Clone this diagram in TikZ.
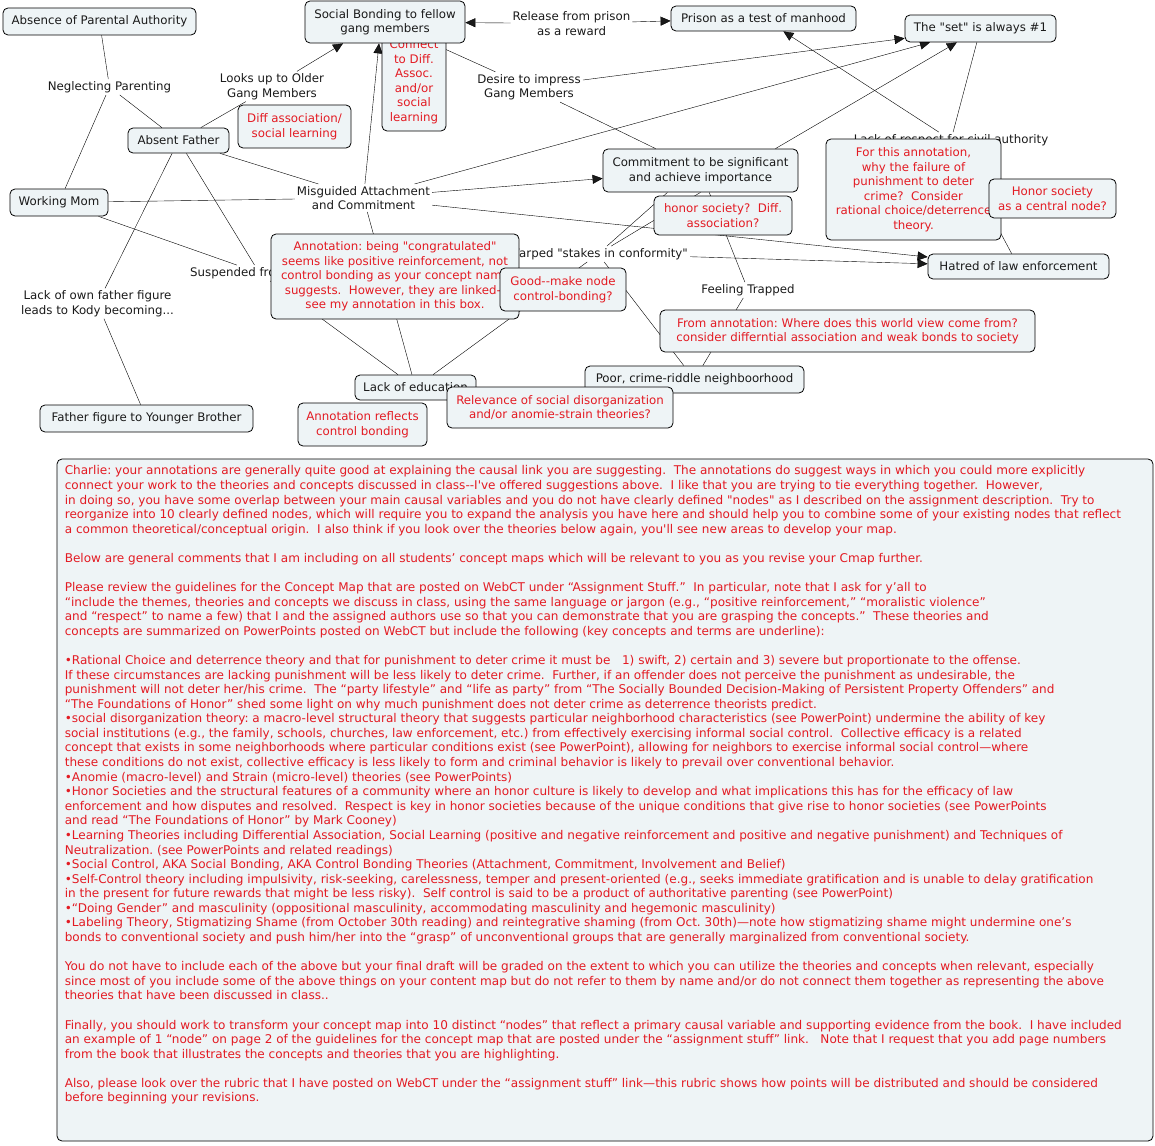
\documentclass[tikz,border=0pt]{standalone}
\usepackage{fontspec}
\newfontfamily\cmfont{DejaVu Sans}
\usetikzlibrary{arrows.meta,backgrounds}
\definecolor{cmfill}{HTML}{EEF4F6}
\definecolor{cmred}{HTML}{E31B23}
\definecolor{cmink}{HTML}{1A1A1A}

\begin{document}
\begin{tikzpicture}[
  x=1pt, y=-1pt,
  font=\cmfont\fontsize{11.8}{14.5}\selectfont\frenchspacing,
  >={Triangle[length=10pt,width=9pt]},
  cpt/.style={draw=black, fill=cmfill, rounded corners=5pt, line width=0.8pt,
              align=center, inner sep=0pt, text=cmink},
  lnk/.style={align=center, inner sep=2pt, text=cmink},
  ann/.style={cpt, text=cmred},
]

\useasboundingbox (0,0) rectangle (1155,1145);

% ===== annotation tucked under the bonding concept =====
\node[ann, minimum width=64pt, minimum height=98pt] (nconnect) at (414,82)
  {Connect\\to Diff.\\Assoc.\\and/or\\social\\learning};

% ===== concepts =====
\node[cpt, minimum width=193pt, minimum height=27pt] (apa) at (99.5,21.5) {Absence of Parental Authority};
\node[cpt, minimum width=160pt, minimum height=42pt] (sb) at (385,22) {Social Bonding to fellow\\gang members};
\node[cpt, minimum width=185pt, minimum height=25pt] (prison) at (763.5,18.5) {Prison as a test of manhood};
\node[cpt, minimum width=151pt, minimum height=27pt] (set) at (980.5,28.5) {The "set" is always \#1};
\node[cpt, minimum width=101pt, minimum height=25pt] (af) at (178.5,140.5) {Absent Father};
\node[cpt, minimum width=98pt, minimum height=27pt] (wm) at (59,202.5) {Working Mom};
\node[cpt, minimum width=195pt, minimum height=43pt] (cmt) at (700.5,170.5) {Commitment to be significant\\and achieve importance};
\node[cpt, minimum width=181pt, minimum height=25pt] (hate) at (1018.5,266.5) {Hatred of law enforcement};
\node[cpt, minimum width=121pt, minimum height=25pt] (loe) at (415.5,387.5) {Lack of education};
\node[cpt, minimum width=219pt, minimum height=27pt] (poor) at (694.5,379.5) {Poor, crime-riddle neighboorhood};
\node[cpt, minimum width=213pt, minimum height=27pt] (ffyb) at (146.5,418.5) {Father figure to Younger Brother};

% ===== linking phrases =====
\node[lnk] (np) at (109.5,87) {Neglecting Parenting};
\node[lnk] (looks) at (272,86.5) {Looks up to Older\\Gang Members};
\node[lnk] (release) at (571.5,23.5) {Release from prison\\as a reward};
\node[lnk] (desire) at (529,87) {Desire to impress\\Gang Members};
\node[lnk] (mac) at (363.5,198) {Misguided Attachment\\and Commitment};
\node[lnk] (respect) at (951,140) {Lack of respect for civil authority};
\node[lnk, anchor=west] (susp) at (188,273) {Suspended from school};
\node[lnk, anchor=east] (warped) at (690,254) {Warped "stakes in conformity"};
\node[lnk] (lofather) at (97.5,303.5) {Lack of own father figure\\leads to Kody becoming...};
\node[lnk] (trapped) at (748,290) {Feeling Trapped};

% ===== connectors =====
\begin{scope}[on background layer, draw=cmink, line width=0.8pt]
  \draw (apa) -- (np);
  \draw (np) -- (wm);
  \draw (np) -- (af);
  \draw (af) -- (looks);
  \draw[->] (looks) -- ([xshift=-42pt]sb.south);
  \draw (af) -- (mac);
  \draw (wm) -- (mac);
  \draw (wm) -- (susp);
  \draw (af) -- (susp);
  \draw (af) -- (lofather);
  \draw (lofather) -- (ffyb);
  \draw[->] (mac) -- ([xshift=-6pt]sb.south);
  \draw[->] (release) -- (sb);
  \draw[->] (release) -- (prison);
  \draw (sb) -- (desire);
  \draw (desire) -- (cmt);
  \draw[->] (desire) -- (set);
  \draw[->] (mac) -- (set);
  \draw[->] ([xshift=75pt]cmt.north) -- (set);
  \draw[->] (mac) -- (cmt);
  \draw[->] (mac) -- (hate);
  \draw (loe) -- (susp);
  \draw (loe) -- (mac);
  \draw (loe) -- (warped);
  \draw ([xshift=-33pt]cmt.south) -- (warped);
  \draw (cmt.south) -- (warped);
  \draw (cmt) -- (trapped);
  \draw (trapped) -- (poor);
  \draw (warped) -- (poor);
  \draw[->] (warped) -- (hate);
  \draw[->] (respect) -- (prison);
  \draw (respect) -- (set);
  \draw (respect) -- (hate);
\end{scope}

% ===== annotations =====
\node[ann, minimum width=113pt, minimum height=43pt] (ndiff) at (294.5,126.5) {Diff association/\\social learning};
\node[ann, minimum width=175pt, minimum height=101pt] (nfail) at (913.5,189.5)
  {For this annotation,\\why the failure of\\punishment to deter\\crime?\ \ Consider\\rational choice/deterrence\\theory.};
\node[ann, minimum width=127pt, minimum height=39pt] (nhonor) at (1052.5,198.5) {Honor society\\as a central node?};
\node[ann, minimum width=138pt, minimum height=39pt] (nhsoc) at (723,215.5) {honor society?\ \ Diff.\\association?};
\node[ann, minimum width=248pt, minimum height=85pt] (ncongr) at (395,276.5)
  {Annotation: being "congratulated"\\seems like positive reinforcement, not\\control bonding as your concept name\\suggests.\ \ However, they are linked-{}-\\see my annotation in this box.};
\node[ann, minimum width=126pt, minimum height=43pt] (nbond) at (563,289.5) {Good-{}-make node\\control-bonding?};
\node[ann, minimum width=375pt, minimum height=42pt] (nworld) at (847.5,331)
  {From annotation: Where does this world view come from?\\consider differntial association and weak bonds to society};
\node[ann, minimum width=226pt, minimum height=41pt] (nrelev) at (560,407.5) {Relevance of social disorganization\\and/or anomie-strain theories?};
\node[ann, minimum width=129pt, minimum height=43pt] (nreflect) at (362.5,424.5) {Annotation reflects\\control bonding};

% ===== general comments box =====
\node[ann, minimum width=1096pt, minimum height=682pt] (ncomment) at (605,800) {};
\node[anchor=north west, align=left, inner sep=0pt, text=cmred,
      font=\cmfont\fontsize{12.05}{14.58}\selectfont\frenchspacing] (ncommenttext)
  at ([shift={(8,7)}]ncomment.north west) {%
Charlie: your annotations are generally quite good at explaining the causal link you are suggesting.\ \ The annotations do suggest ways in which you could more explicitly\\
connect your work to the theories and concepts discussed in class-{}-I've offered suggestions above.\ \ I like that you are trying to tie everything together.\ \ However,\\
in doing so, you have some overlap between your main causal variables and you do not have clearly defined "nodes" as I described on the assignment description.\ \ Try to\\
reorganize into 10 clearly defined nodes, which will require you to expand the analysis you have here and should help you to combine some of your existing nodes that reflect\\
a common theoretical/conceptual origin.\ \ I also think if you look over the theories below again, you'll see new areas to develop your map.\\[14.58pt]
Below are general comments that I am including on all students’ concept maps which will be relevant to you as you revise your Cmap further.\\[14.58pt]
Please review the guidelines for the Concept Map that are posted on WebCT under “Assignment Stuff.”\ \ In particular, note that I ask for y’all to\\
“include the themes, theories and concepts we discuss in class, using the same language or jargon (e.g., “positive reinforcement,” “moralistic violence”\\
and “respect” to name a few) that I and the assigned authors use so that you can demonstrate that you are grasping the concepts.”\ \ These theories and\\
concepts are summarized on PowerPoints posted on WebCT but include the following (key concepts and terms are underline):\\[14.58pt]
•Rational Choice and deterrence theory and that for punishment to deter crime it must be\ \ \ 1) swift, 2) certain and 3) severe but proportionate to the offense.\\
If these circumstances are lacking punishment will be less likely to deter crime.\ \ Further, if an offender does not perceive the punishment as undesirable, the\\
punishment will not deter her/his crime.\ \ The “party lifestyle” and “life as party” from “The Socially Bounded Decision-Making of Persistent Property Offenders” and\\
“The Foundations of Honor” shed some light on why much punishment does not deter crime as deterrence theorists predict.\\
•social disorganization theory: a macro-level structural theory that suggests particular neighborhood characteristics (see PowerPoint) undermine the ability of key\\
social institutions (e.g., the family, schools, churches, law enforcement, etc.) from effectively exercising informal social control.\ \ Collective efficacy is a related\\
concept that exists in some neighborhoods where particular conditions exist (see PowerPoint), allowing for neighbors to exercise informal social control—where\\
these conditions do not exist, collective efficacy is less likely to form and criminal behavior is likely to prevail over conventional behavior.\\
•Anomie (macro-level) and Strain (micro-level) theories (see PowerPoints)\\
•Honor Societies and the structural features of a community where an honor culture is likely to develop and what implications this has for the efficacy of law\\
enforcement and how disputes and resolved.\ \ Respect is key in honor societies because of the unique conditions that give rise to honor societies (see PowerPoints\\
and read “The Foundations of Honor” by Mark Cooney)\\
•Learning Theories including Differential Association, Social Learning (positive and negative reinforcement and positive and negative punishment) and Techniques of\\
Neutralization. (see PowerPoints and related readings)\\
•Social Control, AKA Social Bonding, AKA Control Bonding Theories (Attachment, Commitment, Involvement and Belief)\\
•Self-Control theory including impulsivity, risk-seeking, carelessness, temper and present-oriented (e.g., seeks immediate gratification and is unable to delay gratification\\
in the present for future rewards that might be less risky).\ \ Self control is said to be a product of authoritative parenting (see PowerPoint)\\
•“Doing Gender” and masculinity (oppositional masculinity, accommodating masculinity and hegemonic masculinity)\\
•Labeling Theory, Stigmatizing Shame (from October 30th reading) and reintegrative shaming (from Oct. 30th)—note how stigmatizing shame might undermine one’s\\
bonds to conventional society and push him/her into the “grasp” of unconventional groups that are generally marginalized from conventional society.\\[14.58pt]
You do not have to include each of the above but your final draft will be graded on the extent to which you can utilize the theories and concepts when relevant, especially\\
since most of you include some of the above things on your content map but do not refer to them by name and/or do not connect them together as representing the above\\
theories that have been discussed in class..\\[14.58pt]
Finally, you should work to transform your concept map into 10 distinct “nodes” that reflect a primary causal variable and supporting evidence from the book.\ \ I have included\\
an example of 1 “node” on page 2 of the guidelines for the concept map that are posted under the “assignment stuff” link.\ \ \ Note that I request that you add page numbers\\
from the book that illustrates the concepts and theories that you are highlighting.\\[14.58pt]
Also, please look over the rubric that I have posted on WebCT under the “assignment stuff” link—this rubric shows how points will be distributed and should be considered\\
before beginning your revisions.};

\end{tikzpicture}
\end{document}
